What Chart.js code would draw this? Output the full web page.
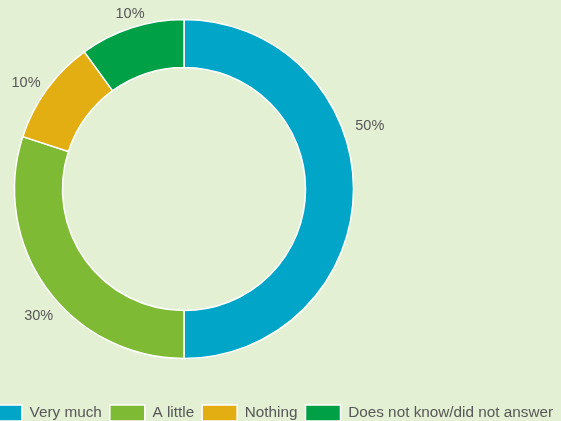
<!DOCTYPE html>
<html>
<head>
<meta charset="utf-8">
<script src="https://cdn.jsdelivr.net/npm/chart.js@4/dist/chart.umd.min.js"></script>
<style>
  html, body { margin: 0; padding: 0; background: #e3f0d4; overflow: hidden; width: 561px; height: 421px; }
  #wrap { position: absolute; left: -30px; top: 0; width: 600px; height: 431px; }
</style>
</head>
<body>
<div id="wrap"><canvas id="chart"></canvas></div>
<script>
const categories = ['Very much', 'A little', 'Nothing', 'Does not know/did not answer'];
const shares = [50, 30, 10, 10];
const pctLabels = ['50%', '30%', '10%', '10%'];
const colors = ['#00a5c8', '#7fba35', '#e3ae12', '#00a046'];
// outside label placement: angle nudge (deg) and gap past the outer edge (px)
const labelNudge = [-19, -5, -2, 1];
const labelGap = [27, 23, 21, 15];

const _text = '#575757';
const _font = '"Liberation Sans", Arial, sans-serif';

// ring sits left of the legend centre, so pin the plot area
const ringArea = {
  id: 'ringArea',
  afterLayout(chart){
    const a = chart.chartArea;
    a.left = 45; a.right = 383; a.top = 20; a.bottom = 358;
    a.width = a.right - a.left; a.height = a.bottom - a.top;
  }
};

const outsideLabels = {
  id: 'outsideLabels',
  afterDatasetsDraw(chart){
    const ctx = chart.ctx;
    const arcs = chart.getDatasetMeta(0).data;
    ctx.save();
    ctx.fillStyle = _text;
    ctx.font = '14.5px ' + _font;
    ctx.textAlign = 'center';
    ctx.textBaseline = 'middle';
    arcs.forEach((a, i) => {
      const p = a.getProps(['x', 'y', 'startAngle', 'endAngle', 'outerRadius'], true);
      const mid = (p.startAngle + p.endAngle) / 2 + labelNudge[i] * Math.PI / 180;
      const r = p.outerRadius + labelGap[i];
      ctx.fillText(pctLabels[i], p.x + Math.cos(mid) * r, p.y + Math.sin(mid) * r + 1);
    });
    ctx.restore();
  }
};

new Chart(document.getElementById('chart'), {
  type: 'doughnut',
  data: {
    labels: categories,
    datasets: [{
      data: shares,
      backgroundColor: colors,
      borderColor: '#ffffff',
      borderWidth: 1.5,
      hoverOffset: 0
    }]
  },
  options: {
    responsive: true, maintainAspectRatio: false, animation: false,
    radius: 169.5,
    cutout: '71.7%',
    plugins: {
      legend: {
        position: 'bottom',
        labels: {
          color: _text,
          font: { family: _font, size: 15.3 },
          boxWidth: 35, boxHeight: 16, padding: 8
        }
      },
      tooltip: { enabled: false }
    }
  },
  plugins: [ringArea, outsideLabels]
});
</script>
</body>
</html>
